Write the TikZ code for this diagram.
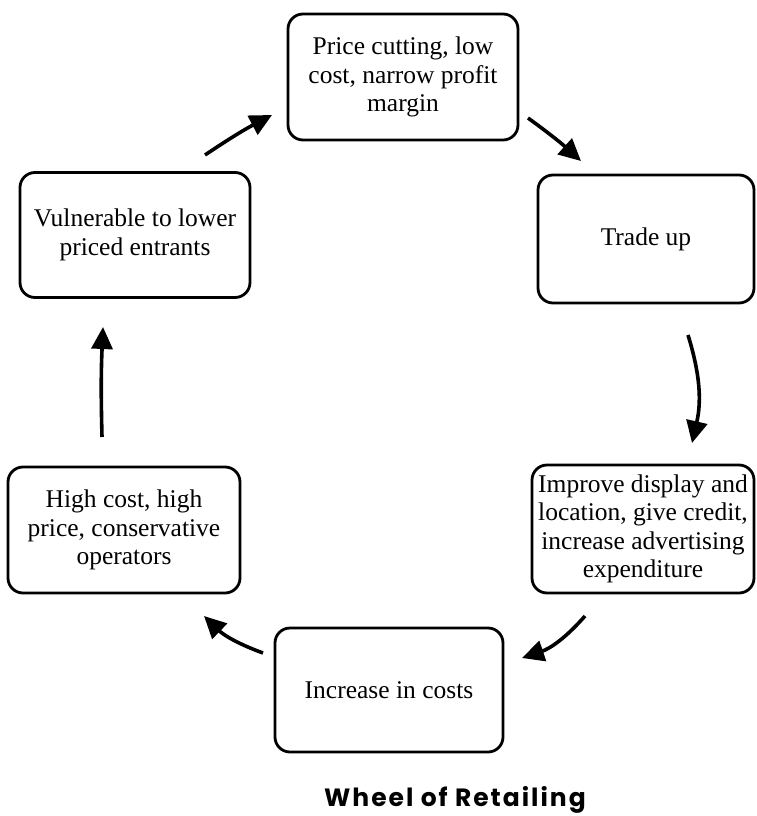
\documentclass[tikz,border=0pt]{standalone}
\usepackage{fontspec}
\setmainfont{Liberation Serif}
\newfontfamily\titlefont[LetterSpace=8]{Poppins}
\usetikzlibrary{arrows.meta}
\begin{document}
\begin{tikzpicture}[x=1pt,y=-1pt,
  box/.style={draw, line width=2.8pt, rounded corners=15pt, align=center,
    font=\fontsize{25.5}{28.5}\selectfont, inner sep=0pt},
  flow/.style={line width=3.6pt, -{Triangle[length=22pt,width=21pt]}}]
\useasboundingbox (0,0) rectangle (756,816);
\node[box, minimum width=230pt, minimum height=126pt] (top) at (403,77)
  {Price cutting, low\\cost, narrow profit\\margin};
\node[box, minimum width=216pt, minimum height=128pt] (trade) at (646,239)
  {Trade up};
\node[box, minimum width=222pt, minimum height=128pt] (improve) at (643,529)
  {Improve display and\\location, give credit,\\increase advertising\\expenditure};
\node[box, minimum width=228pt, minimum height=124pt] (incr) at (389,690)
  {Increase in costs};
\node[box, minimum width=232pt, minimum height=126pt] (high) at (124,530)
  {High cost, high\\price, conservative\\operators};
\node[box, minimum width=230pt, minimum height=125pt] (vuln) at (135,235)
  {Vulnerable to lower\\priced entrants};
\node[font=\titlefont\bfseries\fontsize{25}{28}\selectfont] (title) at (455,800)
  {Wheel of Retailing};
% arrow end points
\coordinate (a1s) at (205,155); \coordinate (a1e) at (272,115);
\coordinate (a2s) at (528,118); \coordinate (a2e) at (581,161);
\coordinate (a3s) at (688,335); \coordinate (a3e) at (692,443);
\coordinate (a4s) at (585,616); \coordinate (a4e) at (522,658);
\coordinate (a5s) at (263,653); \coordinate (a5e) at (204,616);
\coordinate (a6s) at (102,437); \coordinate (a6e) at (103,327);
\draw[flow] (a1s) to[bend left=3] (a1e);
\draw[flow] (a2s) to[bend left=3] (a2e);
\draw[flow] (a3s) to[bend left=15] (a3e);
\draw[flow] (a4s) to[bend left=15] (a4e);
\draw[flow] (a5s) to[bend left=12] (a5e);
\draw[flow] (a6s) to[bend left=2] (a6e);
\end{tikzpicture}
\end{document}
